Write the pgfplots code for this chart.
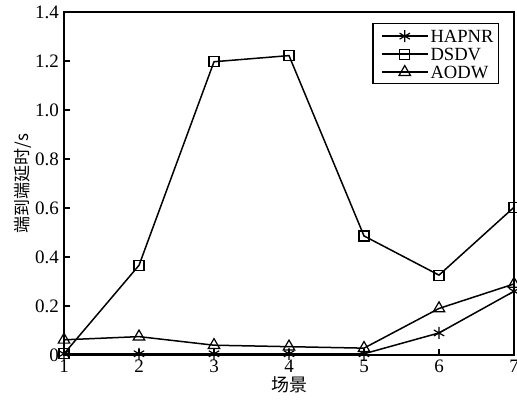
\documentclass[border=0pt]{standalone}
\usepackage{fontspec}
\setmainfont{Liberation Serif}
\newfontfamily\cjk{Noto Sans CJK SC}
\usepackage{pgfplots}
\pgfplotsset{compat=1.18}
\begin{document}
\begin{tikzpicture}
\begin{axis}[
  scale only axis,
  width=225pt, height=171.5pt,
  xmin=1, xmax=7, ymin=0, ymax=1.4,
  xtick={1,2,3,4,5,6,7},
  ytick={0,0.2,0.4,0.6,0.8,1.0,1.2,1.4},
  yticklabels={0,0.2,0.4,0.6,0.8,1.0,1.2,1.4},
  tick align=inside,
  xtick pos=bottom, ytick pos=left,
  major tick length=3pt,
  axis line style={line width=0.7pt},
  tick style={line width=0.6pt, black},
  /pgf/number format/assume math mode=true,
  tick label style={font=\fontsize{9.5}{10}\selectfont},
  xticklabel style={yshift=1pt},
  yticklabel style={xshift=1pt},
  xlabel={\cjk\fontsize{9}{10}\selectfont 场景},
  ylabel={\cjk\fontsize{8.5}{10}\selectfont 端到端延时/s},
  xlabel style={yshift=5pt},
  ylabel style={yshift=-5pt},
  legend style={at={(0.967,0.968)}, anchor=north east, font=\fontsize{9.3}{10}\selectfont,
    draw=black, line width=0.6pt, inner xsep=1.5pt, inner ysep=1.5pt, row sep=0pt,
    nodes={text height=7pt, text depth=0pt, inner sep=1pt}},
  legend cell align=left,
  legend image code/.code={\path (-2.5pt,0pt); \draw[mark repeat=2,mark phase=2, yshift=-0.3pt] plot coordinates {(0pt,0pt) (11.5pt,0pt) (23pt,0pt)};},
  every axis plot/.append style={black, line width=0.75pt, mark size=3pt},
]
\addplot[mark=asterisk, mark options={line width=0.6pt}] coordinates {(1,0.005) (2,0.005) (3,0.005) (4,0.005) (5,0.005) (6,0.09) (7,0.26)};
\addplot[mark=square, mark size=2.5pt, mark options={line width=0.6pt}] coordinates {(1,0.005) (2,0.366) (3,1.197) (4,1.222) (5,0.486) (6,0.326) (7,0.603)};
\addplot[mark=triangle, mark size=3.3pt, mark options={line width=0.6pt}] coordinates {(1,0.062) (2,0.075) (3,0.04) (4,0.034) (5,0.028) (6,0.19) (7,0.29)};
\legend{HAPNR,DSDV,AODW}
\end{axis}
\pgfresetboundingbox
\path[use as bounding box] ([shift={(-32pt,-23pt)}]current axis.south west) rectangle ([shift={(1.5pt,6pt)}]current axis.north east);
\end{tikzpicture}
\end{document}
